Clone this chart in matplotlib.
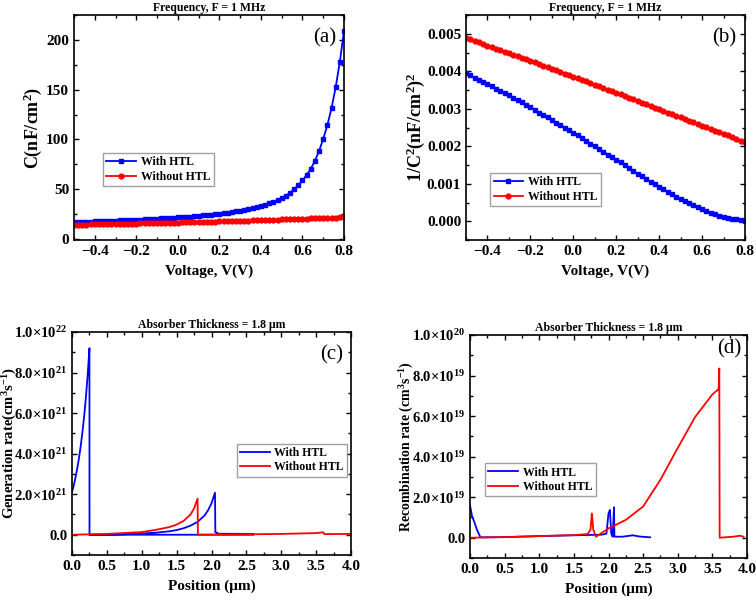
import numpy as np
import matplotlib
matplotlib.use("Agg")
import matplotlib.pyplot as plt
from matplotlib.ticker import MultipleLocator, FormatStrFormatter

plt.rcParams['font.family'] = ['Liberation Serif', 'DejaVu Serif']
plt.rcParams['font.weight'] = 'bold'
plt.rcParams['mathtext.fontset'] = 'custom'
plt.rcParams['mathtext.rm'] = 'Liberation Serif:bold'
plt.rcParams['mathtext.it'] = 'Liberation Serif:bold:italic'
plt.rcParams['mathtext.bf'] = 'Liberation Serif:bold'

BLUE = '#0000ff'
RED = '#ff0000'

# ---- C-V data (step 0.02 V) ----
voltage = np.round(np.arange(-0.50, 0.8001, 0.02), 2)

cap_htl = [17.0, 17.1, 17.2, 17.4, 17.5, 17.6, 17.8, 17.9, 18.1, 18.2,
           18.4, 18.6, 18.8, 18.9, 19.1, 19.3, 19.5, 19.7, 19.9, 20.2,
           20.4, 20.6, 20.9, 21.1, 21.4, 21.7, 22.0, 22.3, 22.6, 22.9,
           23.3, 23.7, 24.1, 24.5, 25.0, 25.5, 26.0, 26.6, 27.2, 27.8,
           28.5, 29.3, 30.1, 31.0, 32.0, 33.1, 34.4, 35.8, 37.3, 39.1,
           41.2, 43.6, 46.5, 50.0, 54.0, 58.8, 64.2, 70.5, 78.5, 88.5,
           100.5, 114.5, 131.5, 152.5, 178.0, 209.0]

cap_no_htl = [14.3, 14.4, 14.5, 14.5, 14.6, 14.7, 14.8, 14.8, 14.9, 15.0,
              15.1, 15.2, 15.2, 15.3, 15.4, 15.5, 15.6, 15.7, 15.8, 15.9,
              16.0, 16.1, 16.2, 16.3, 16.4, 16.5, 16.6, 16.7, 16.8, 16.9,
              17.0, 17.1, 17.2, 17.3, 17.5, 17.6, 17.7, 17.8, 17.9, 18.1,
              18.2, 18.3, 18.4, 18.6, 18.7, 18.9, 19.0, 19.1, 19.3, 19.4,
              19.6, 19.7, 19.8, 20.0, 20.1, 20.3, 20.4, 20.6, 20.7, 20.9,
              21.0, 21.2, 21.3, 21.5, 21.7, 21.9]

inv_c2_htl = [0.00395, 0.00389, 0.00383, 0.00378, 0.00372, 0.00366, 0.00360, 0.00354, 0.00348, 0.00342,
              0.00336, 0.00330, 0.00323, 0.00317, 0.00310, 0.00304, 0.00297, 0.00290, 0.00284, 0.00277,
              0.00270, 0.00263, 0.00257, 0.00250, 0.00243, 0.00236, 0.00229, 0.00222, 0.00214, 0.00207,
              0.00200, 0.00193, 0.00186, 0.00178, 0.00171, 0.00164, 0.00157, 0.00149, 0.00142, 0.00134,
              0.00127, 0.00120, 0.00113, 0.00106, 0.00099, 0.00092, 0.00085, 0.00079, 0.00072, 0.00066,
              0.00060, 0.00054, 0.00048, 0.00043, 0.00037, 0.00032, 0.00027, 0.00023, 0.00019, 0.00015,
              0.00012, 0.00009, 0.00007, 0.00005, 0.00003, 0.00002]

inv_c2_no_htl = [0.00490, 0.00486, 0.00481, 0.00477, 0.00472, 0.00468, 0.00464, 0.00460, 0.00456, 0.00452,
                 0.00448, 0.00444, 0.00440, 0.00436, 0.00432, 0.00428, 0.00424, 0.00419, 0.00415, 0.00411,
                 0.00407, 0.00403, 0.00398, 0.00394, 0.00390, 0.00386, 0.00382, 0.00377, 0.00373, 0.00369,
                 0.00364, 0.00360, 0.00356, 0.00351, 0.00347, 0.00343, 0.00338, 0.00334, 0.00330, 0.00325,
                 0.00321, 0.00316, 0.00312, 0.00308, 0.00303, 0.00299, 0.00295, 0.00290, 0.00286, 0.00281,
                 0.00277, 0.00273, 0.00268, 0.00264, 0.00259, 0.00255, 0.00251, 0.00246, 0.00242, 0.00237,
                 0.00233, 0.00229, 0.00224, 0.00220, 0.00215, 0.00211]

# ---- Generation rate (units of 1e21 cm^-3 s^-1) ----
gen_pos_htl = [0.0, 0.025, 0.05, 0.075, 0.1, 0.125, 0.15, 0.175, 0.2, 0.225, 0.25, 0.251, 2.6, np.nan,
               0.25, 0.5, 0.75, 1.0, 1.2, 1.4, 1.5, 1.6, 1.7, 1.8, 1.9, 1.95, 2.0, 2.05,
               2.055, 2.08, 2.085, 2.6]
gen_htl = [2.1, 2.43, 2.82, 3.27, 3.78, 4.38, 5.07, 5.87, 6.8, 7.9, 9.2, 0.0, 0.0, np.nan,
           0.0, 0.01, 0.025, 0.06, 0.1, 0.17, 0.23, 0.32, 0.45, 0.63, 0.95, 1.2, 1.55, 2.07,
           0.12, 0.1, 0.05, 0.04]

gen_pos_no_htl = [0.0, 0.5, 1.0, 1.2, 1.4, 1.5, 1.6, 1.7, 1.75, 1.8, 1.805, 2.5, 3.0, 3.5, 3.6, 3.62, 4.0]
gen_no_htl = [0.0, 0.04, 0.13, 0.24, 0.38, 0.5, 0.68, 1.0, 1.3, 1.78, 0.0, 0.02, 0.04, 0.08, 0.12, 0.03, 0.04]

# ---- Recombination rate (units of 1e19 cm^-3 s^-1) ----
rec_pos_htl = [0.0, 0.03, 0.06, 0.1, 0.15, 0.5, 1.0, 1.5, 1.9, 1.97, 2.0, 2.02, 2.04, 2.06,
               2.08, 2.085, 2.09, 2.2, 2.35, 2.45, 2.6]
rec_htl = [1.6, 1.05, 0.8, 0.4, 0.02, 0.03, 0.08, 0.12, 0.15, 0.2, 1.2, 1.37, 0.2, 0.05,
           1.5, 0.1, 0.05, 0.05, 0.12, 0.06, 0.02]

rec_pos_no_htl = [0.0, 0.5, 1.0, 1.5, 1.7, 1.74, 1.76, 1.78, 1.82, 2.0, 2.25, 2.5, 2.75, 3.0,
                  3.25, 3.5, 3.58, 3.59, 3.6, 3.605, 3.8, 3.9, 3.95]
rec_no_htl = [0.0, 0.03, 0.08, 0.13, 0.18, 0.4, 1.2, 0.4, 0.05, 0.46, 0.88, 1.54, 2.86, 4.43,
              5.95, 7.07, 7.3, 7.35, 8.35, 0.0, 0.05, 0.1, 0.05]

gen_ticks = [0, 2, 4, 6, 8, 10]
gen_labels = ['0.0', r'2.0$\times$10$^{21}$', r'4.0$\times$10$^{21}$', r'6.0$\times$10$^{21}$',
              r'8.0$\times$10$^{21}$', r'1.0$\times$10$^{22}$']
rec_ticks = [0, 2, 4, 6, 8, 10]
rec_labels = ['0.0', r'2.0$\times$10$^{19}$', r'4.0$\times$10$^{19}$', r'6.0$\times$10$^{19}$',
              r'8.0$\times$10$^{19}$', r'1.0$\times$10$^{20}$']

fig = plt.figure(figsize=(7.56, 6.03), dpi=100)
W, H = 756, 603


def add_ax(l, t, r, b):
    return fig.add_axes([l / W, 1 - b / H, (r - l) / W, (b - t) / H])


ax_a = add_ax(74, 15, 344, 240)
ax_b = add_ax(466, 15, 745, 240)
ax_c = add_ax(72, 332, 351, 555)
ax_d = add_ax(470, 335, 747, 558)


def style(ax, ylabsize=11):
    ax.tick_params(which='both', direction='in', top=True, right=True, labelsize=11, width=1)
    ax.tick_params(axis='y', labelsize=ylabsize)
    ax.tick_params(which='major', length=3.5)
    ax.tick_params(which='minor', length=2)
    for s in ax.spines.values():
        s.set_linewidth(1.2)
    for lab in ax.get_xticklabels() + ax.get_yticklabels():
        lab.set_fontweight('bold')


xlbl = dict(fontsize=11, fontweight='bold', labelpad=5)
leg_kw = dict(frameon=True, fancybox=False, edgecolor='#888888',
              borderpad=0.3, labelspacing=0.2, handlelength=2.5, handletextpad=0.4,
              borderaxespad=0.0, prop={'weight': 'bold', 'size': 8.5})
title_kw = dict(fontsize=8.5, fontweight='bold', pad=3)
tag_kw = dict(ha='right', va='top', fontsize=15, fontweight='normal')

# (a)
ax_a.plot(voltage, cap_htl, '-s', color=BLUE, ms=3.5, lw=1.3, label='With HTL')
ax_a.plot(voltage, cap_no_htl, '-o', color=RED, ms=3.5, lw=1.3, label='Without HTL')
ax_a.set_xlim(-0.5, 0.8)
ax_a.set_ylim(-1, 225)
ax_a.xaxis.set_major_locator(MultipleLocator(0.2))
ax_a.xaxis.set_minor_locator(MultipleLocator(0.1))
ax_a.yaxis.set_major_locator(MultipleLocator(50))
ax_a.yaxis.set_minor_locator(MultipleLocator(25))
ax_a.set_xlabel('Voltage, V(V)', **xlbl)
ax_a.set_ylabel(r'C(nF/cm$^2$)', fontsize=13, fontweight='bold')
ax_a.yaxis.set_label_coords(-0.111, 0.5)
ax_a.set_title('Frequency, F = 1 MHz', **title_kw)
ax_a.text(0.97, 0.94, '(a)', transform=ax_a.transAxes, **tag_kw)
ax_a.legend(loc='upper left', bbox_to_anchor=(0.107, 0.387), **leg_kw)
style(ax_a)

# (b)
ax_b.plot(voltage, inv_c2_htl, '-s', color=BLUE, ms=3.5, lw=1.3, label='With HTL')
ax_b.plot(voltage, inv_c2_no_htl, '-o', color=RED, ms=3.5, lw=1.3, label='Without HTL')
ax_b.set_xlim(-0.5, 0.8)
ax_b.set_ylim(-0.0005, 0.0055)
ax_b.xaxis.set_major_locator(MultipleLocator(0.2))
ax_b.xaxis.set_minor_locator(MultipleLocator(0.1))
ax_b.yaxis.set_major_locator(MultipleLocator(0.001))
ax_b.yaxis.set_minor_locator(MultipleLocator(0.0005))
ax_b.yaxis.set_major_formatter(FormatStrFormatter('%.3f'))
ax_b.set_xlabel('Voltage, V(V)', **xlbl)
ax_b.set_ylabel(r'1/C$^2$(nF/cm$^2$)$^2$', fontsize=13, fontweight='bold')
ax_b.yaxis.set_label_coords(-0.14, 0.5)
ax_b.set_title('Frequency, F = 1 MHz', **title_kw)
ax_b.text(0.97, 0.94, '(b)', transform=ax_b.transAxes, **tag_kw)
ax_b.legend(loc='upper left', bbox_to_anchor=(0.086, 0.298), **leg_kw)
style(ax_b)

# (c)
ax_c.plot(gen_pos_htl, gen_htl, color=BLUE, lw=1.3, label='With HTL')
ax_c.plot(gen_pos_no_htl, gen_no_htl, color=RED, lw=1.3, label='Without HTL')
ax_c.set_xlim(0, 4)
ax_c.set_ylim(-1, 10)
ax_c.xaxis.set_major_locator(MultipleLocator(0.5))
ax_c.xaxis.set_minor_locator(MultipleLocator(0.25))
ax_c.set_yticks(gen_ticks)
ax_c.set_yticklabels(gen_labels)
ax_c.yaxis.set_minor_locator(MultipleLocator(1))
ax_c.set_xlabel('Position (μm)', **xlbl)
ax_c.set_ylabel(r'Generation rate(cm$^3$s$^{-1}$)', fontsize=10.5, fontweight='bold')
ax_c.yaxis.set_label_coords(-0.19, 0.5)
ax_c.set_title('Absorber Thickness = 1.8 μm', **title_kw)
ax_c.text(0.97, 0.94, '(c)', transform=ax_c.transAxes, **tag_kw)
ax_c.legend(loc='upper left', bbox_to_anchor=(0.59, 0.50), **leg_kw)
style(ax_c, ylabsize=10.5)

# (d)
ax_d.plot(rec_pos_htl, rec_htl, color=BLUE, lw=1.3, label='With HTL')
ax_d.plot(rec_pos_no_htl, rec_no_htl, color=RED, lw=1.3, label='Without HTL')
ax_d.set_xlim(0, 4)
ax_d.set_ylim(-1, 10)
ax_d.xaxis.set_major_locator(MultipleLocator(0.5))
ax_d.xaxis.set_minor_locator(MultipleLocator(0.25))
ax_d.set_yticks(rec_ticks)
ax_d.set_yticklabels(rec_labels)
ax_d.yaxis.set_minor_locator(MultipleLocator(1))
ax_d.set_xlabel('Position (μm)', **xlbl)
ax_d.set_ylabel(r'Recombination rate (cm$^3$s$^{-1}$)', fontsize=10, fontweight='bold')
ax_d.yaxis.set_label_coords(-0.195, 0.5)
ax_d.set_title('Absorber Thickness = 1.8 μm', **title_kw)
ax_d.text(0.98, 0.98, '(d)', transform=ax_d.transAxes, **tag_kw)
ax_d.legend(loc='upper left', bbox_to_anchor=(0.054, 0.426), **leg_kw)
style(ax_d, ylabsize=10.5)

fig.savefig('out.png', dpi=100)
